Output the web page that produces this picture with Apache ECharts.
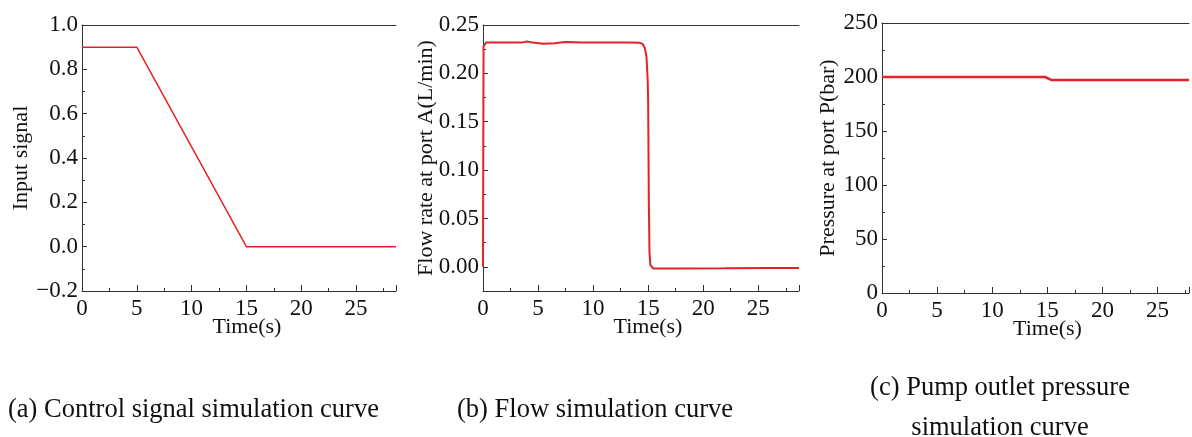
<!DOCTYPE html>
<html>
<head>
<meta charset="utf-8">
<script src="https://cdn.jsdelivr.net/npm/echarts@6/dist/echarts.min.js"></script>
<style>
  html, body { margin: 0; padding: 0; background: #fff; }
  #main { width: 1192px; height: 437px; }
</style>
</head>
<body>
<div id="main"></div>
<script>
// (a) 控制信号
var signalTime = [0, 5, 15, 28.65];
var signalValue = [0.9, 0.9, 0, 0];
// (b) A口流量
var flowTime = [0, 0.05, 0.3, 2, 3.5, 4, 4.5, 5.5, 6.5, 7.5, 9, 11, 13, 14.2, 14.5, 14.7, 14.85, 14.95, 15.0, 15.06, 15.12, 15.2, 15.45, 18, 22, 26, 28.7];
var flowRate = [0, 0.228, 0.232, 0.232, 0.2318, 0.233, 0.2318, 0.2307, 0.2312, 0.2324, 0.2318, 0.2318, 0.2318, 0.2317, 0.2305, 0.226, 0.217, 0.195, 0.172, 0.069, 0.015, 0.002, -0.0017, -0.0017, -0.0016, -0.0013, -0.0012];
// (c) 泵出口压力
var pressTime = [0, 14.8, 15.4, 27.85];
var pressValue = [200, 200, 197.2, 197.2];

var xMax = [28.65, 28.7, 27.85];
var yNames = ['Input signal', 'Flow rate at port A(L/min)', 'Pressure at port P(bar)'];
var captions = ['(a) Control signal simulation curve', '(b) Flow simulation curve', '(c) Pump outlet pressure\nsimulation curve'];

function pairs (xs, ys) {
  return xs.map(function (x, i) { return [x, ys[i]]; });
}

var FONT = '"Liberation Serif", "Times New Roman", serif';
var AX = '#333';

function bottomX (i, shift) {
  return {
    type: 'value', gridIndex: i, min: 0, max: xMax[i], interval: 5,
    name: 'Time(s)', nameLocation: 'middle', nameGap: 25, nameMoveOverlap: false,
    nameTextStyle: { fontFamily: FONT, fontSize: 22, color: '#111', padding: [0, 0, 0, shift] },
    axisLine: { onZero: false, lineStyle: { color: AX, width: 1 } },
    axisTick: { inside: true, length: 6, lineStyle: { color: AX } },
    minorTick: { show: true, splitNumber: 2, length: 3, lineStyle: { color: AX } },
    axisLabel: {
      margin: 6, fontFamily: FONT, fontSize: 23, color: '#111',
      formatter: function (v) { return Math.abs(v % 5) < 1e-6 ? String(Math.round(v)) : ''; }
    },
    splitLine: { show: false }
  };
}

function topX (i) {
  return {
    type: 'value', gridIndex: i, position: 'top', min: 0, max: xMax[i],
    axisLine: { show: true, onZero: false, lineStyle: { color: AX, width: 1 } },
    axisTick: { show: false }, axisLabel: { show: false }, splitLine: { show: false }
  };
}

function leftY (i, opt, gap, fmt) {
  var base = {
    type: 'value', gridIndex: i,
    name: yNames[i], nameLocation: 'middle', nameGap: gap, nameMoveOverlap: false,
    nameTextStyle: { fontFamily: FONT, fontSize: 22, color: '#111' },
    axisLine: { show: true, onZero: false, lineStyle: { color: AX, width: 1 } },
    axisTick: { show: true, inside: true, length: 5, lineStyle: { color: AX } },
    minorTick: { show: true, splitNumber: 2, length: 3, lineStyle: { color: AX } },
    axisLabel: { margin: 4, fontFamily: FONT, fontSize: 23, color: '#111', formatter: fmt },
    splitLine: { show: false }
  };
  return Object.assign(base, opt);
}

const myChart = echarts.init(document.getElementById('main'));
const option = {
  backgroundColor: '#fff',
  animation: false,
  grid: [
    { left: 82, top: 25, width: 314, height: 266 },
    { left: 483, top: 25, width: 316, height: 266 },
    { left: 882, top: 23, width: 310, height: 270 }
  ],
  xAxis: [bottomX(0, 16), bottomX(1, 14), bottomX(2, 24), topX(0), topX(1), topX(2)],
  yAxis: [
    leftY(0, { min: -0.2, max: 1.0, interval: 0.2 }, 50, function (v) {
      return v.toFixed(1).replace('-', '\u2212');
    }),
    leftY(1, { min: -0.025, max: 0.25, splitNumber: 5 }, 46, function (v) {
      return v >= -1e-9 ? Math.abs(v).toFixed(2) : '';
    }),
    leftY(2, { min: 0, max: 250, interval: 50 }, 43, function (v) {
      return String(Math.round(v));
    })
  ],
  graphic: [
    { type: 'text', left: 8, top: 397, style: { text: captions[0], font: '26.5px ' + FONT, fill: '#111' } },
    { type: 'text', left: 457, top: 397, style: { text: captions[1], font: '26.5px ' + FONT, fill: '#111' } },
    { type: 'text', x: 1000, y: 368, style: { text: captions[2], font: '26.5px ' + FONT, fill: '#111', align: 'center', lineHeight: 40 } }
  ],
  series: [
    {
      type: 'line', xAxisIndex: 0, yAxisIndex: 0, data: pairs(signalTime, signalValue),
      showSymbol: false, lineStyle: { color: '#e42228', width: 1.5 }
    },
    {
      type: 'line', xAxisIndex: 1, yAxisIndex: 1, data: pairs(flowTime, flowRate),
      showSymbol: false, lineStyle: { color: '#e42228', width: 2 }
    },
    {
      type: 'line', xAxisIndex: 2, yAxisIndex: 2, data: pairs(pressTime, pressValue),
      showSymbol: false, lineStyle: { color: '#e42228', width: 2.5 }
    }
  ]
};
myChart.setOption(option);
window.addEventListener('resize', function () {
  myChart.resize();
});
</script>
</body>
</html>
